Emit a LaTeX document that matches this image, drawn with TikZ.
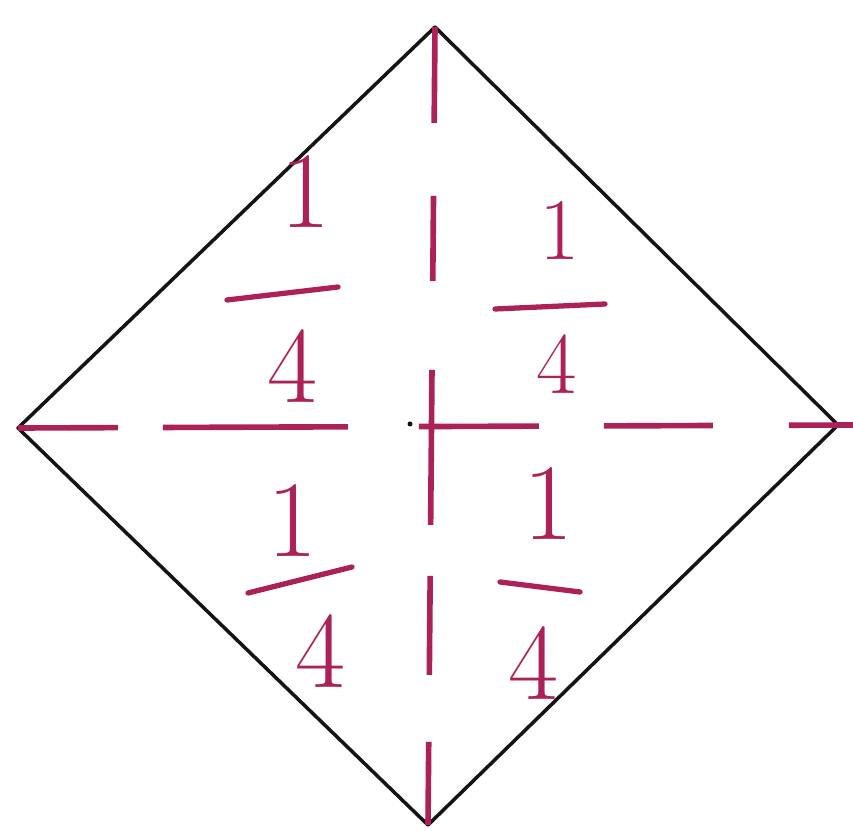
\documentclass[tikz,border=0pt]{standalone}
\usepackage{fontspec}
\usepackage{xcolor}
\usepackage{tikz}
\definecolor{pen-red}{RGB}{172, 34, 88}
\definecolor{pen-black}{RGB}{20, 20, 20}

\begin{document}
\begin{tikzpicture}[x=0.02cm, y=-0.02cm,
    digit/.style={color=pen-red, anchor=base, inner sep=0pt, font=\fontsize{62}{70}\selectfont},
    small digit/.style={digit, font=\fontsize{50}{56}\selectfont},
    bar/.style={color=pen-red, line width=3pt, line cap=round}]
    \useasboundingbox (0,0) rectangle (853,831);
    % corners of the square
    \coordinate (top) at (435,27);
    \coordinate (rgt) at (838,425);
    \coordinate (bot) at (428,825);
    \coordinate (lft) at (18,428);
    \coordinate (rgtend) at (853,425);

    \draw[color=pen-black, line width=2pt, line join=round] (top) -- (rgt) -- (bot) -- (lft) -- cycle;

    % folding lines
    \draw[color=pen-red, line width=3.2pt,
        dash pattern=on 1.92cm off 1.46cm on 1.7cm off 1.78cm on 3.1cm off 1.02cm on 1.98cm off 1.34cm on 2cm]
        (top) -- (bot);
    \draw[color=pen-red, line width=3.2pt,
        dash pattern=on 2cm off 0.9cm on 3.7cm off 1.42cm on 2.4cm off 1.3cm on 2.18cm off 1.52cm on 2cm]
        (lft) -- (rgtend);
    \fill[pen-black] (410,424) circle (2.5);

    % top left
    \node[digit] (tl-one) at (305,228) {1};
    \draw[bar] (227,300) -- (338,287);
    \node[digit] (tl-four) at (292,403) {4};
    % top right
    \node[small digit] (tr-one) at (560,260) {1};
    \draw[bar] (495,309) -- (605,304);
    \node[small digit] (tr-four) at (557,394) {4};
    % bottom left
    \node[digit] (bl-one) at (292,557) {1};
    \draw[bar] (248,593) -- (352,567);
    \node[digit] (bl-four) at (320,687) {4};
    % bottom right
    \node[digit] (br-one) at (548,540) {1};
    \draw[bar] (500,582) -- (580,592);
    \node[digit] (br-four) at (533,700) {4};
\end{tikzpicture}
\end{document}
